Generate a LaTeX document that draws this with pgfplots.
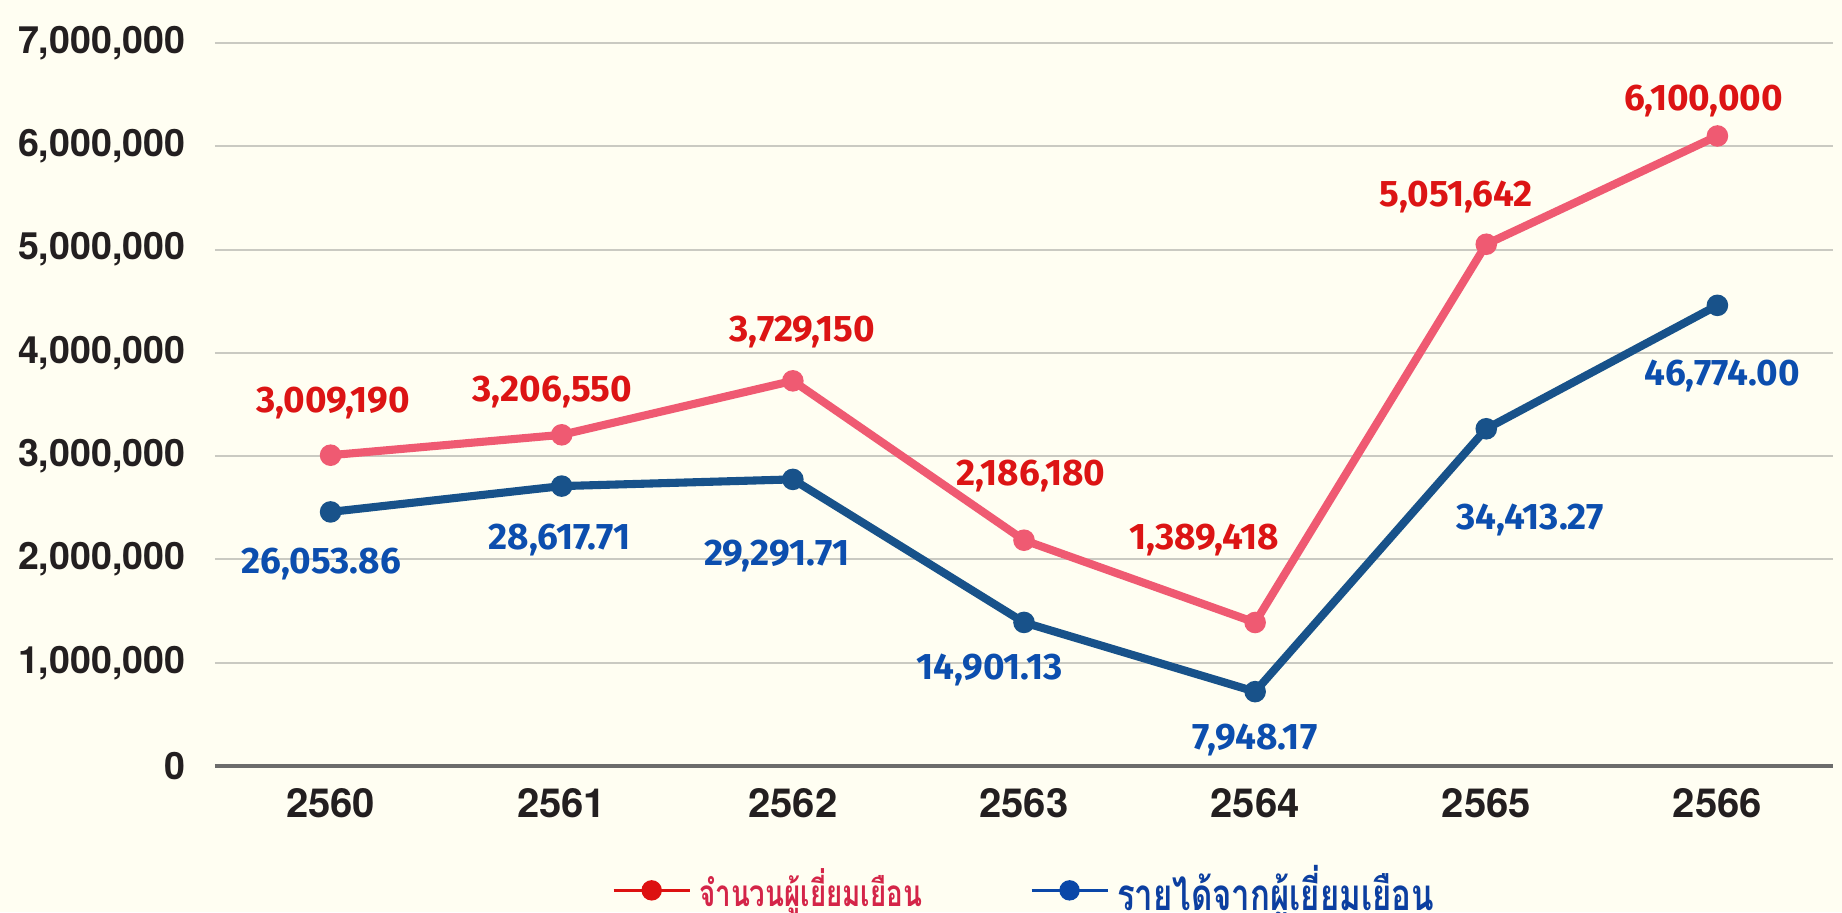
\documentclass[border=0pt]{standalone}
\usepackage{fontspec}
\setmainfont{TeX Gyre Heros}
\newfontfamily\thaifont[Script=Thai, FakeStretch=0.75]{Loma}
\newfontfamily\labfont{Fira Sans}
\usepackage{pgfplots}
\pgfplotsset{compat=1.18}
\definecolor{bgcream}{HTML}{FFFEF2}
\definecolor{linered}{HTML}{EF5A72}
\definecolor{lineblue}{HTML}{18528A}
\definecolor{labred}{HTML}{DC1414}
\definecolor{labblue}{HTML}{0C4EAE}
\definecolor{gridc}{HTML}{CACAC2}
\definecolor{tickc}{HTML}{231F20}
\definecolor{legred}{HTML}{DD1111}
\definecolor{legredtext}{HTML}{D42548}
\definecolor{legblue}{HTML}{0A47A8}
\definecolor{legbluetext}{HTML}{0C3FA0}

\begin{document}
\begin{tikzpicture}
\fill[bgcream] (-21.5mm,-14.6mm) rectangle (162.7mm,76.6mm);
\useasboundingbox (-21.5mm,-14.6mm) rectangle (162.7mm,76.6mm);
\begin{axis}[
    at={(0,0)}, anchor=south west,
    scale only axis, width=161.8mm, height=72.3mm,
    xmin=-0.5, xmax=6.5, ymin=0, ymax=7000000,
    axis x line*=bottom, axis y line*=left,
    x axis line style={draw=gray!85!black, line width=0.9pt},
    y axis line style={draw=none},
    major tick length=0pt,
    xtick={0,...,6},
    xticklabels={2560,2561,2562,2563,2564,2565,2566},
    ytick={0,1000000,...,7000000},
    scaled y ticks=false,
    ymajorgrids, grid style={gridc, line width=0.6pt},
    /pgf/number format/assume math mode=true,
    yticklabel style={/pgf/number format/fixed, /pgf/number format/1000 sep={,},
        anchor=east, inner sep=0pt, xshift=-2.9mm,
        font=\bfseries\fontsize{10.7}{12}\selectfont, text=tickc},
    xticklabel style={anchor=center, inner sep=0pt, yshift=-3.7mm,
        font=\bfseries\fontsize{11.4}{12}\selectfont, text=tickc},
    legend style={at={(rel axis cs:0.245,-0.172)}, anchor=west,
        draw=none, fill=none, inner sep=0pt,
        nodes={inner sep=0.8mm, anchor=west}},
    legend columns=2,
    /tikz/every even column/.append style={column sep=10mm},
    clip=false,
]
% visitors
\addplot[forget plot, color=linered, line width=2.3pt, mark=*, mark size=1.9pt]
  coordinates {(0,3009190)(1,3206550)(2,3729150)(3,2186180)(4,1389418)(5,5051642)(6,6100000)};
% revenue (scaled onto same axis)
\addplot[forget plot, color=lineblue, line width=2.3pt, mark=*, mark size=1.9pt]
  coordinates {(0,2460000)(1,2710000)(2,2775000)(3,1390000)(4,720000)(5,3265000)(6,4460000)};

\addlegendimage{legend image code/.code={\draw[legred, line width=0.9pt] (0mm,0mm)--(7.6mm,0mm); \fill[legred] (3.8mm,0mm) circle (0.95mm);}}
\addlegendentry{\thaifont\bfseries\fontsize{10.5}{11}\selectfont\color{legredtext}จำนวนผู้เยี่ยมเยือน}
\addlegendimage{legend image code/.code={\draw[legblue, line width=0.9pt] (0mm,0mm)--(7.6mm,0mm); \fill[legblue] (3.8mm,0mm) circle (0.95mm);}}
\addlegendentry{\thaifont\bfseries\fontsize{12.5}{13}\selectfont\color{legbluetext}รายได้จากผู้เยี่ยมเยือน}

% data labels
\begin{scope}[every node/.style={font=\labfont\bfseries\fontsize{10.5}{11}\selectfont, text=labred}]
\node at (axis cs:0.01,3514000) {3,009,190};
\node at (axis cs:0.96,3620000) {3,206,550};
\node at (axis cs:2.04,4200000) {3,729,150};
\node at (axis cs:3.03,2810000) {2,186,180};
\node at (axis cs:3.78,2190000) {1,389,418};
\node at (axis cs:4.87,5510000) {5,051,642};
\node at (axis cs:5.94,6440000) {6,100,000};
\end{scope}
\begin{scope}[every node/.style={font=\labfont\bfseries\fontsize{10.5}{11}\selectfont, text=labblue}]
\node at (axis cs:-0.04,1955000) {26,053.86};
\node at (axis cs:0.99,2190000) {28,617.71};
\node at (axis cs:1.93,2030000) {29,291.71};
\node at (axis cs:2.85,930000) {14,901.13};
\node at (axis cs:4.00,250000) {7,948.17};
\node at (axis cs:5.19,2380000) {34,413.27};
\node at (axis cs:6.02,3780000) {46,774.00};
\end{scope}
\end{axis}
\end{tikzpicture}
\end{document}
